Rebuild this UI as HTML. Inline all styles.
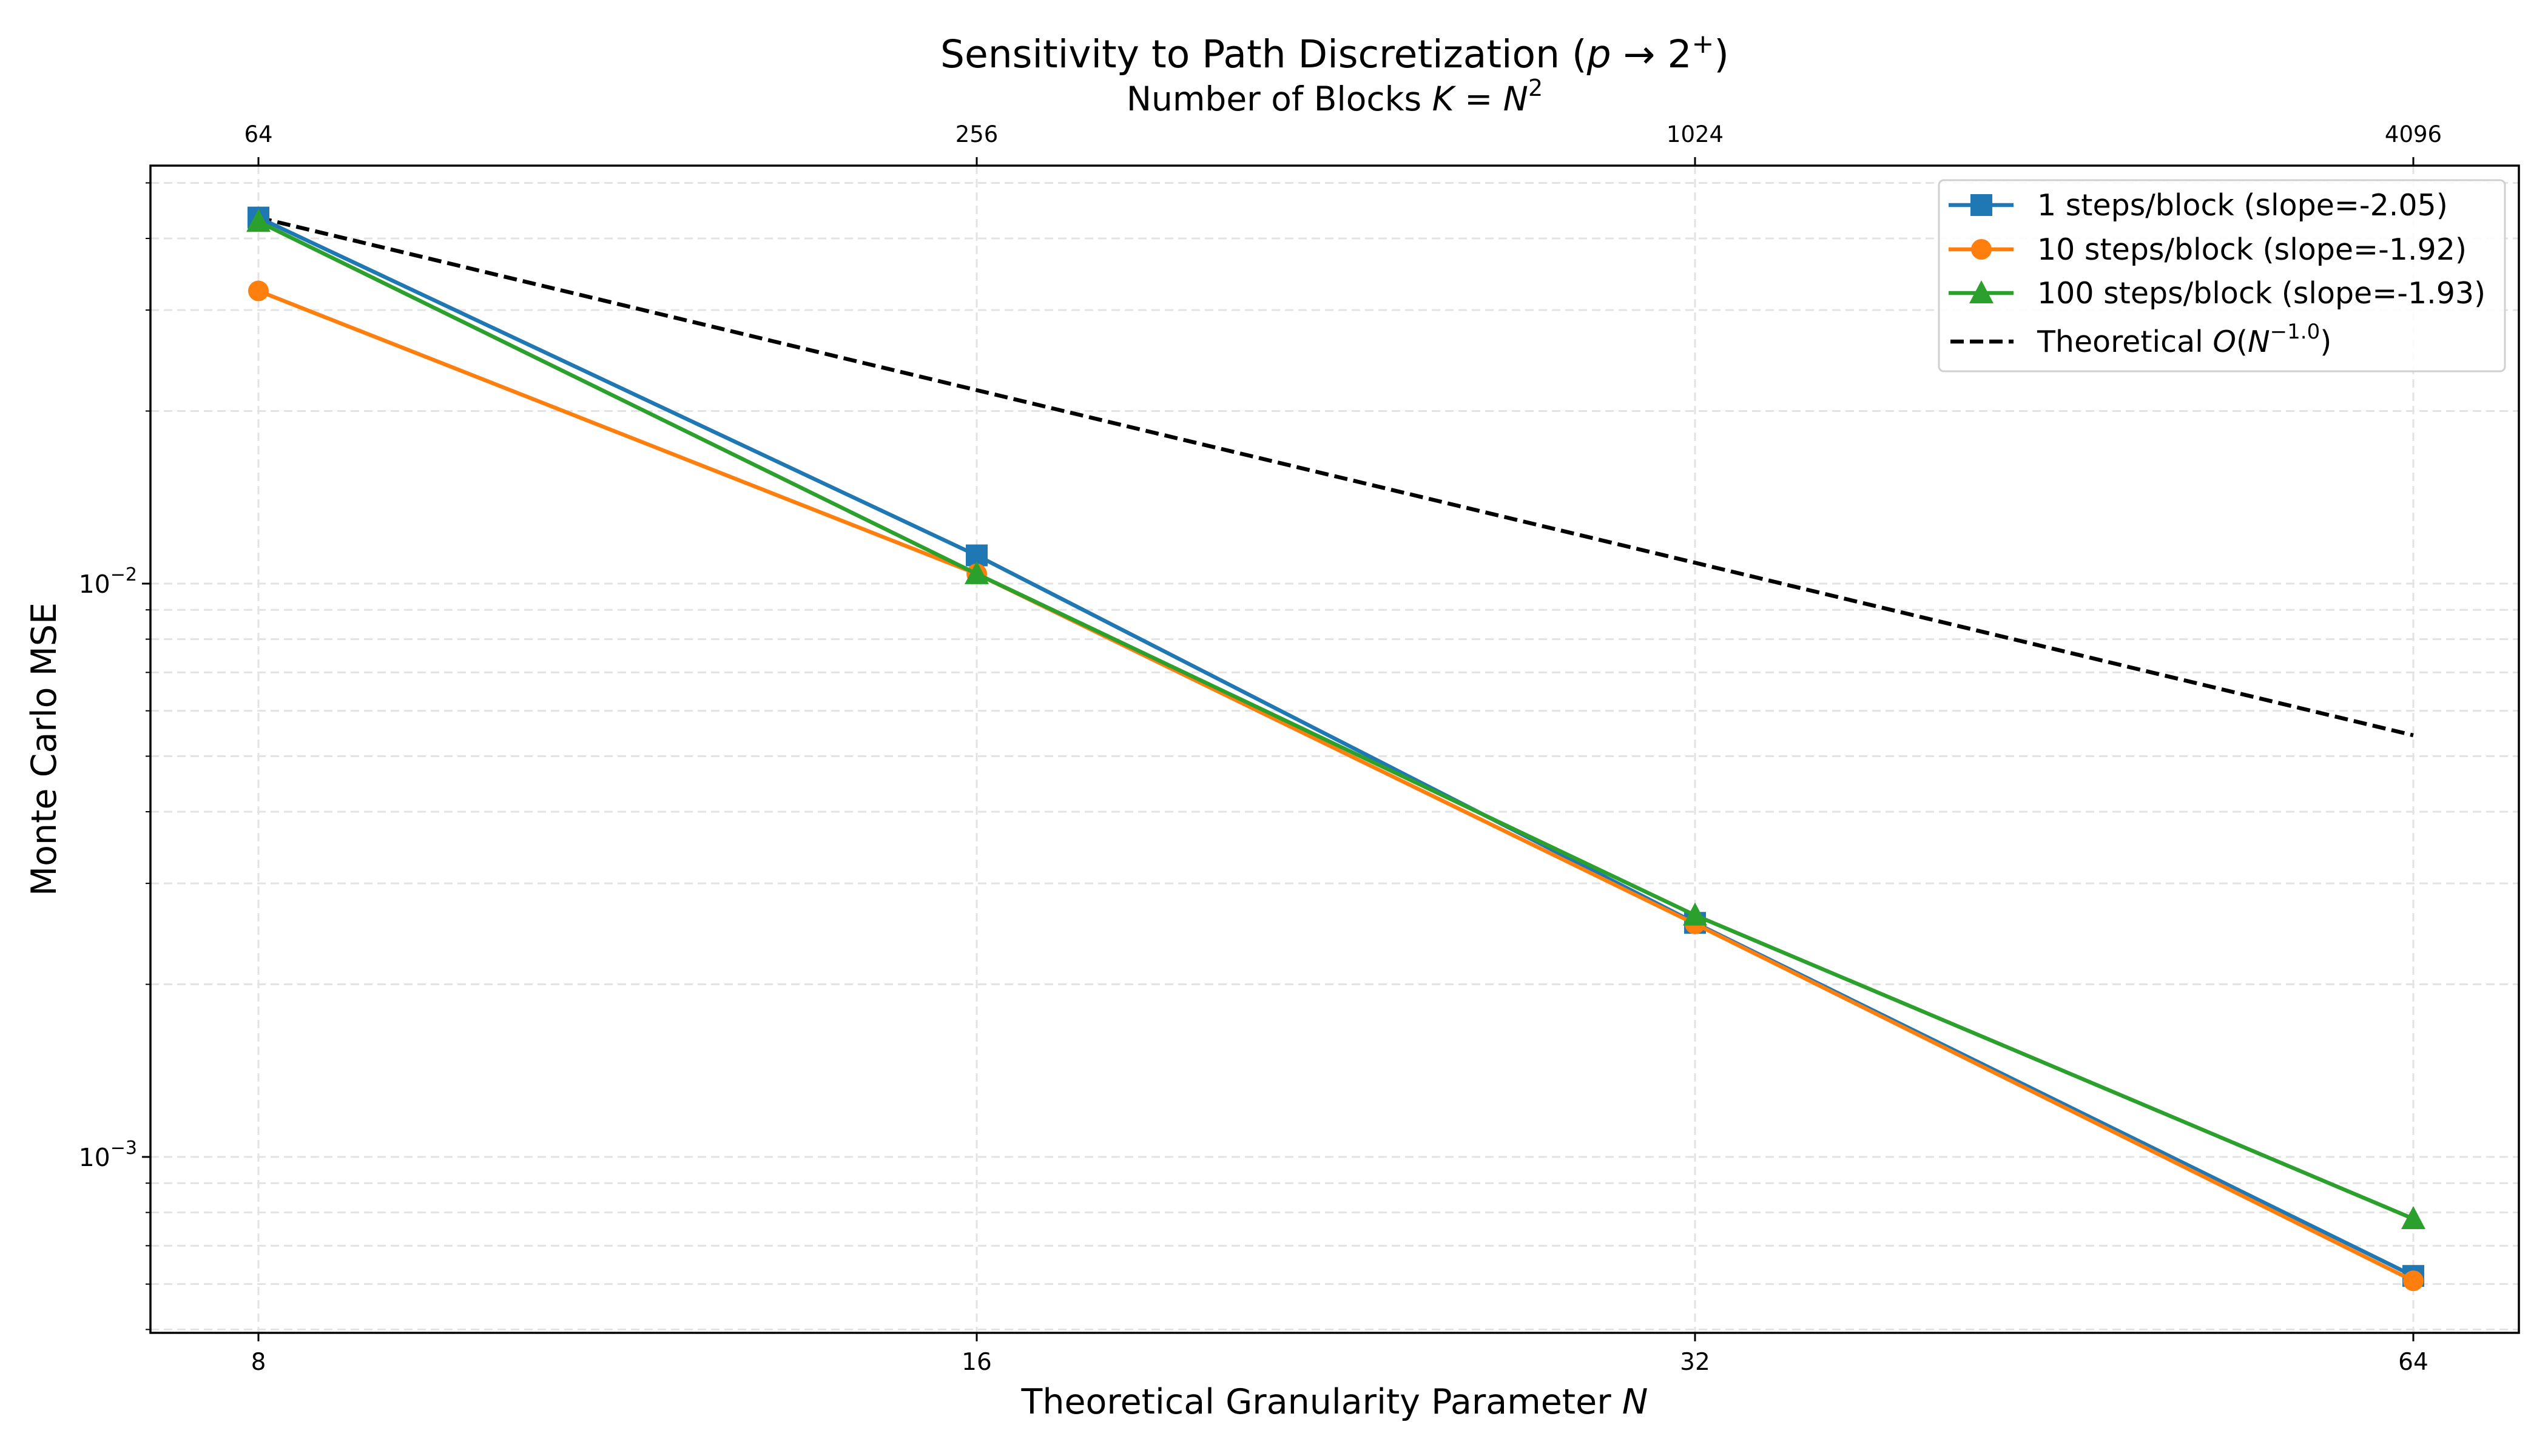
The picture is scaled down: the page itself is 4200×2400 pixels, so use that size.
<!DOCTYPE html>
<html><head><meta charset="utf-8"><style>
html,body{margin:0;padding:0;background:#fff;}
svg{display:block;font-family:"DejaVu Sans","Liberation Sans",sans-serif;}
</style></head><body>
<svg id="chart" width="4200" height="2400" viewBox="0 0 4200 2400" xmlns="http://www.w3.org/2000/svg">
<rect width="4200" height="2400" fill="#fff"/>
<g id="grid"></g>
<g id="series"></g>
<rect x="248" y="273" width="3904" height="1924" fill="none" stroke="#000" stroke-width="3.5"/>
<g id="axes"></g>
<text x="2200" y="111" text-anchor="middle" font-size="63">Sensitivity to Path Discretization (<tspan font-style="italic">p</tspan> → 2<tspan dy="-24" font-size="44">+</tspan><tspan dy="24">)</tspan></text>
<text x="2200" y="182" text-anchor="middle" font-size="55">Number of Blocks <tspan font-style="italic">K</tspan> = <tspan font-style="italic">N</tspan><tspan dy="-24" font-size="38">2</tspan></text>
<text x="2200" y="2330" text-anchor="middle" font-size="57">Theoretical Granularity Parameter <tspan font-style="italic">N</tspan></text>
<text transform="translate(92,1235) rotate(-90)" text-anchor="middle" font-size="57">Monte Carlo MSE</text>
<g id="legend"></g>
</svg>
<script>
const categories = [8, 16, 32, 64];
const topLabels = ["64", "256", "1024", "4096"];
const s1 = [0.0435, 0.0112, 0.00256, 0.00062];
const s10 = [0.0324, 0.0104, 0.00255, 0.000608];
const s100 = [0.0428, 0.0104, 0.00264, 0.00078];
const theory = [0.0435, 0.02175, 0.010875, 0.0054375];
const legendLabels = ["1 steps/block (slope=-2.05)", "10 steps/block (slope=-1.92)", "100 steps/block (slope=-1.93)"];

const NS = "http://www.w3.org/2000/svg";
const L = 248, R = 4152, T = 273, B = 2197;
function xs(n){ return 426 + (Math.log2(n) - 3) * 1184; }
function ys(v){ return 962 - (Math.log10(v) + 2) * 945; }
function mk(tag, attrs, parent){
  const e = document.createElementNS(NS, tag);
  for (const k in attrs) e.setAttribute(k, attrs[k]);
  parent.appendChild(e);
  return e;
}
const grid = document.getElementById('grid');
const axes = document.getElementById('axes');
const series = document.getElementById('series');
const legend = document.getElementById('legend');

for (let d = -4; d <= -1; d++) {
  for (let m = 1; m <= 9; m++) {
    const v = m * Math.pow(10, d);
    const y = ys(v);
    if (y < T - 1 || y > B + 1) continue;
    const g = mk('line', {x1: L, x2: R, y1: y, y2: y, stroke: '#e3e3e3', 'stroke-width': 3, 'stroke-dasharray': '14,8'}, grid);
    
    
    const t = mk('line', {x1: L - (m === 1 ? 14 : 8), x2: L, y1: y, y2: y, stroke: '#000', 'stroke-width': m === 1 ? 3 : 2}, axes);
    
    
    if (m === 1) {
      const lb = mk('text', {x: L - 22, y: y + 15, 'text-anchor': 'end', 'font-size': 41}, axes);
      
      
      lb.textContent = '10';
      const sp = mk('tspan', {dy: -20, 'font-size': 30}, lb);
      sp.textContent = '−' + (-d);
    }
  }
}
categories.forEach((n, i) => {
  const x = xs(n);
  const g = mk('line', {x1: x, x2: x, y1: T, y2: B, stroke: '#e3e3e3', 'stroke-width': 3, 'stroke-dasharray': '14,8'}, grid);
  
  
  const t = mk('line', {x1: x, x2: x, y1: B, y2: B + 14, stroke: '#000', 'stroke-width': 3}, axes);
  
  
  const lb = mk('text', {x: x, y: 2258, 'text-anchor': 'middle', 'font-size': 39}, axes);
  
  
  lb.textContent = String(n);
  const tt = mk('line', {x1: x, x2: x, y1: T - 14, y2: T, stroke: '#000', 'stroke-width': 3}, axes);
  
  
  const tl = mk('text', {x: x, y: 234, 'text-anchor': 'middle', 'font-size': 37}, axes);
  
  
  tl.textContent = topLabels[i];
});

function marker(kind, cx, cy, color, parent){
  let e;
  if (kind === 'square') e = mk('rect', {x: cx - 18, y: cy - 18, width: 36, height: 36, fill: color}, parent);
  else if (kind === 'circle') e = mk('circle', {cx: cx, cy: cy, r: 17, fill: color}, parent);
  else e = mk('polygon', {points: `${cx},${cy - 21} ${cx - 20},${cy + 17} ${cx + 20},${cy + 17}`, fill: color}, parent);
  return e;
}
const defs = [
  {vals: s1, color: '#1f77b4', kind: 'square', name: 'series-1-step'},
  {vals: s10, color: '#ff7f0e', kind: 'circle', name: 'series-10-steps'},
  {vals: s100, color: '#2ca02c', kind: 'triangle', name: 'series-100-steps'}
];
const tp = mk('polyline', {points: categories.map((n, i) => xs(n) + ',' + ys(theory[i])).join(' '), fill: 'none', stroke: '#000', 'stroke-width': 6.5, 'stroke-dasharray': '22,10'}, series);


defs.forEach(d => {
  const g = mk('g', {}, series);
  
  
  const pl = mk('polyline', {points: categories.map((n, i) => xs(n) + ',' + ys(d.vals[i])).join(' '), fill: 'none', stroke: d.color, 'stroke-width': 6.5}, g);
  
  
  categories.forEach((n, i) => {
    const m = marker(d.kind, xs(n), ys(d.vals[i]), d.color, g);
    
    
  });
});

const box = mk('rect', {x: 3196, y: 297, width: 933, height: 315, rx: 8, fill: '#fff', 'fill-opacity': 0.85, stroke: '#d0d0d0', 'stroke-width': 3}, legend);


const ly = [338, 411, 483, 563];
defs.forEach((d, i) => {
  const g = mk('g', {}, legend);
  
  
  mk('line', {x1: 3212, x2: 3319, y1: ly[i], y2: ly[i], stroke: d.color, 'stroke-width': 6.5}, g);
  marker(d.kind, 3266, ly[i], d.color, g);
  const t = mk('text', {x: 3358, y: ly[i] + 17, 'font-size': 49}, g);
  t.textContent = legendLabels[i];
});
const g4 = mk('g', {}, legend);


mk('line', {x1: 3215, x2: 3319, y1: ly[3], y2: ly[3], stroke: '#000', 'stroke-width': 6.5, 'stroke-dasharray': '22,10'}, g4);
const t4 = mk('text', {x: 3358, y: ly[3] + 17, 'font-size': 49}, g4);
t4.innerHTML = 'Theoretical <tspan font-style="italic">O</tspan>(<tspan font-style="italic">N</tspan><tspan dy="-22" font-size="34">−1.0</tspan><tspan dy="22">)</tspan>';
</script>
</body></html>
